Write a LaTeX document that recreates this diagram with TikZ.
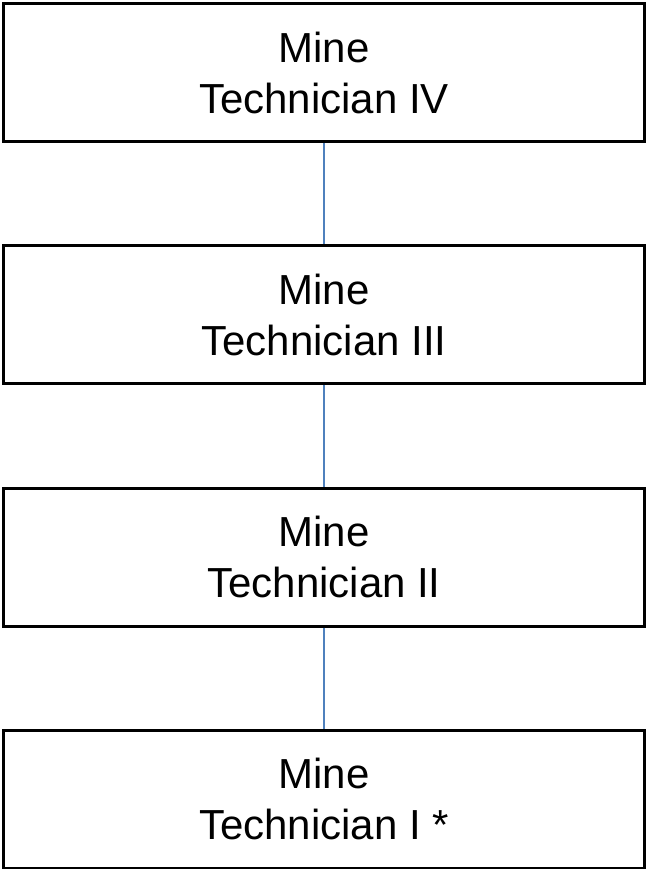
\documentclass[tikz,border=0pt]{standalone}
\usepackage{fontspec}
\setmainfont{Liberation Sans}
\definecolor{linkblue}{RGB}{79,129,189}
\tikzset{
  rolebox/.style={draw=black, line width=3pt, fill=white, minimum width=641pt, minimum height=138pt,
    inner sep=0pt, align=center, font=\fontsize{42}{51}\selectfont, text=black},
  link/.style={draw=linkblue, line width=2pt}
}
\begin{document}
\begin{tikzpicture}[x=1pt,y=-1pt]
\useasboundingbox (0,0) rectangle (646,869);
\node[rolebox] (b4) at (324,73) {Mine\\Technician IV};
\node[rolebox] (b3) at (324,314.5) {Mine\\Technician III};
\node[rolebox] (b2) at (324,557) {Mine\\Technician II};
\node[rolebox] (b1) at (324,799) {Mine\\Technician I *};
\draw[link] (b4.south -| 323.5,0) -- (b3.north -| 323.5,0);
\draw[link] (b3.south -| 323.5,0) -- (b2.north -| 323.5,0);
\draw[link] (b2.south -| 323.5,0) -- (b1.north -| 323.5,0);
\end{tikzpicture}
\end{document}
